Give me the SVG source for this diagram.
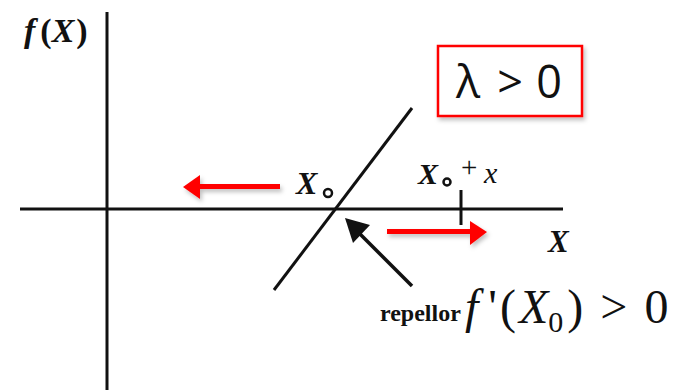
<svg xmlns="http://www.w3.org/2000/svg" width="679" height="390" viewBox="0 0 679 390">
<defs>
<style>
.ax{stroke:#111;stroke-width:3;fill:none;stroke-linecap:butt}
.red{stroke:#f00;stroke-width:5;fill:none}
.redh{fill:#f00}
.serif{font-family:"Liberation Serif","DejaVu Serif",serif;fill:#111}
.lam{font-family:"Open Sans","Liberation Sans",sans-serif;font-size:45px;fill:#111;text-anchor:middle}
</style>
<filter id="sh" x="-10%" y="-10%" width="130%" height="140%">
<feDropShadow dx="2" dy="3" stdDeviation="2" flood-color="#000" flood-opacity="0.25"/>
</filter>
</defs>
<rect width="679" height="390" fill="#fff"/>
<g id="axes">
<line class="ax" x1="107" y1="12" x2="107" y2="390"/>
<line class="ax" x1="20" y1="209" x2="563" y2="209"/>
<line x1="461" y1="190" x2="461" y2="225" stroke="#111" stroke-width="3"/>
<line x1="274" y1="290" x2="412" y2="108" stroke="#111" stroke-width="3"/>
</g>
<g id="labels">
<text class="serif" x="24" y="42" font-size="34" font-weight="bold"><tspan font-style="italic">f</tspan><tspan dx="5">(</tspan><tspan font-style="italic">X</tspan><tspan dx="2">)</tspan></text>
<text class="serif" x="548" y="252" font-size="31" font-weight="bold" font-style="italic">X</text>
<text class="serif" x="296" y="194" font-size="32" font-weight="bold" font-style="italic">X</text>
<circle cx="328" cy="193" r="4" fill="none" stroke="#111" stroke-width="2.5"/>
<text class="serif" x="418" y="184" font-size="30" font-weight="bold" font-style="italic">X</text>
<circle cx="447" cy="182" r="3.5" fill="none" stroke="#111" stroke-width="2.5"/>
<text class="serif" x="461" y="177" font-size="29">+</text>
<text class="serif" x="484" y="183" font-size="30" font-style="italic">x</text>
<text class="serif" x="380" y="321" font-size="24" font-weight="bold">repellor</text>
<text class="serif" x="465" y="323" font-size="48"><tspan font-style="italic">f</tspan><tspan dx="10">'</tspan><tspan dx="3">(</tspan><tspan dx="3" font-style="italic">X</tspan><tspan font-size="30" dy="9">0</tspan><tspan dy="-9" dx="4">)</tspan><tspan dx="17">&gt;</tspan><tspan dx="17">0</tspan></text>
</g>
<g id="lambda">
<rect x="438" y="46" width="144" height="70" fill="#fff" stroke="#f00" stroke-width="2.5" filter="url(#sh)"/>
<text class="lam" x="468" y="98">λ</text>
<text class="lam" x="510" y="98">&gt;</text>
<text class="lam" x="549" y="98">0</text>
</g>
<g id="connectors">
<g filter="url(#sh)">
<line class="red" x1="199" y1="186.5" x2="280" y2="186.5"/>
<polygon class="redh" points="183,187 200,175 200,199"/>
<line class="red" x1="387" y1="231.5" x2="471" y2="231.5"/>
<polygon class="redh" points="487,232 470,221 470,245"/>
</g>
<line x1="412" y1="286" x2="358" y2="232" stroke="#111" stroke-width="3.5"/>
<polygon points="345,218 370,225 353,243" fill="#111"/>
</g>
</svg>
